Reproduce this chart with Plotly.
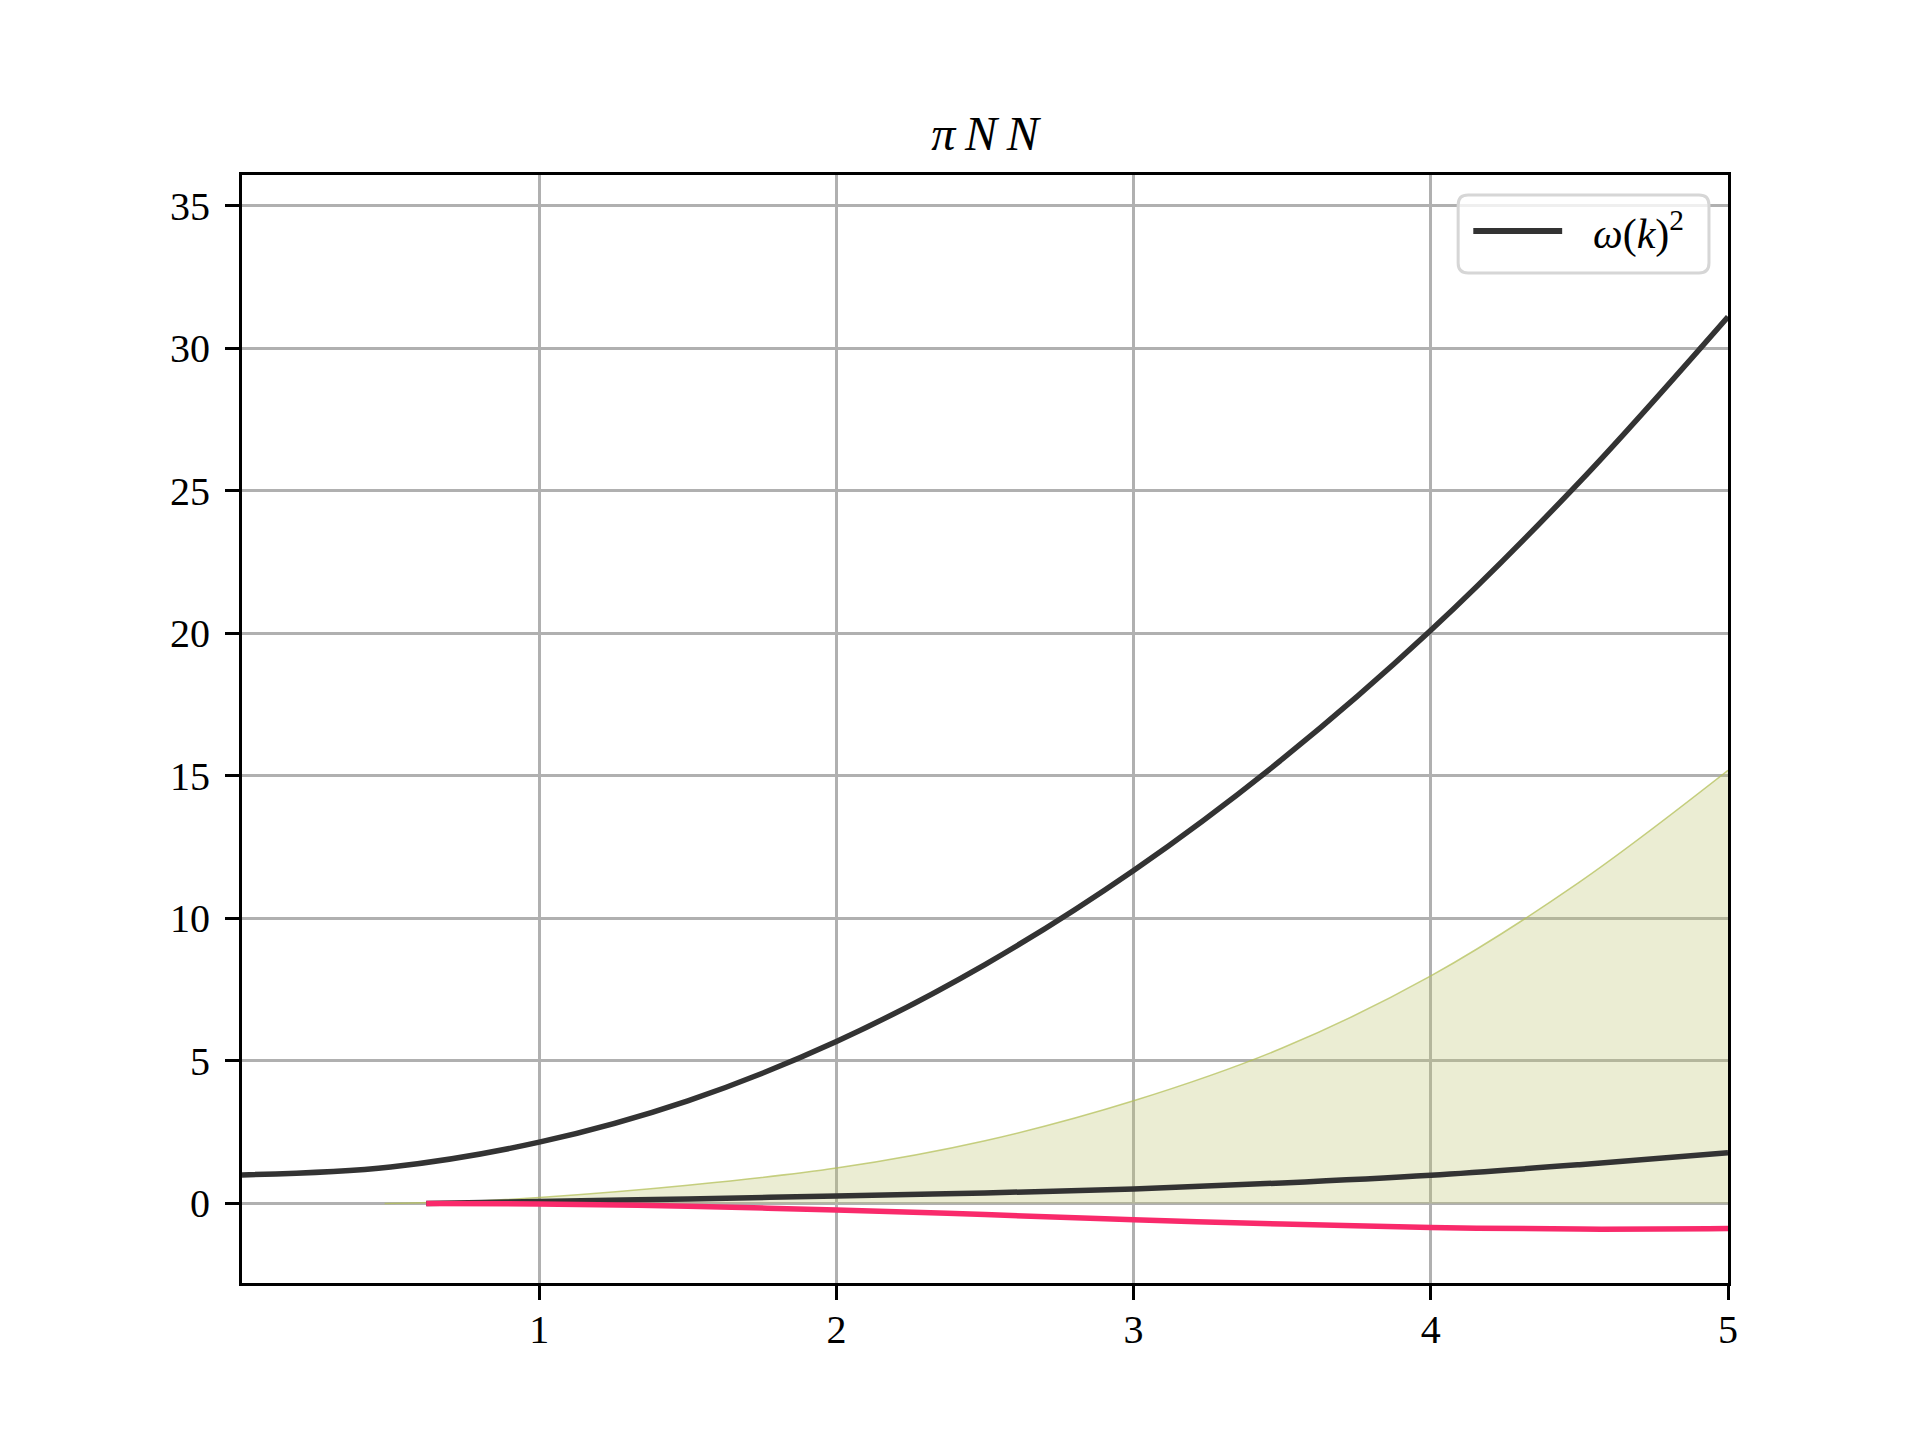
import plotly.graph_objects as go

# Upper dispersion curve omega(k)^2
k_upper = [0, 0.5, 1, 1.5, 2, 2.5, 3, 3.5, 4, 4.5, 5]
w_upper = [1.0, 1.28, 2.15, 3.6, 5.68, 8.38, 11.68, 15.58, 20.1, 25.3, 31.1]

# Lower dispersion curve
k_lower = [0.62, 1, 1.5, 2, 2.5, 3, 3.5, 4, 4.5, 5]
w_lower = [0.0, 0.07, 0.16, 0.26, 0.37, 0.51, 0.72, 0.99, 1.36, 1.78]

# Shaded region upper edge
k_band = [0.48, 0.75, 1, 1.5, 2, 2.5, 3, 3.5, 4, 4.5, 5]
band_top = [0.0, 0.07, 0.21, 0.64, 1.24, 2.2, 3.6, 5.45, 7.98, 11.27, 15.19]

# Pink curve
k_pink = [0.62, 1, 1.5, 2, 2.5, 3, 3.5, 4, 4.5, 5]
pink = [0.0, -0.02, -0.1, -0.23, -0.39, -0.57, -0.72, -0.84, -0.9, -0.88]

x_ticks = [1, 2, 3, 4, 5]
y_ticks = [0, 5, 10, 15, 20, 25, 30, 35]

legend_label = "<i>ω</i>(<i>k</i>)<sup>2</sup>"
title_text = "<i>π\u2009N\u2009N</i>"

FONT = "Liberation Serif"
OFF = 6.5  # page offset compensation

fig = go.Figure()

fig.add_trace(go.Scatter(x=k_band, y=[0] * len(k_band), mode="lines",
                         line=dict(width=0), showlegend=False, hoverinfo="skip"))
fig.add_trace(go.Scatter(x=k_band, y=band_top, mode="lines", fill="tonexty",
                         fillcolor="rgba(188,196,110,0.30)",
                         line=dict(color="rgba(180,192,90,0.75)", width=1.5, shape="spline"),
                         showlegend=False))

fig.add_trace(go.Scatter(x=k_upper, y=w_upper, mode="lines",
                         line=dict(color="#333333", width=5.5, shape="spline"),
                         name=legend_label, showlegend=False))
fig.add_trace(go.Scatter(x=k_lower, y=w_lower, mode="lines",
                         line=dict(color="#333333", width=5.5, shape="spline"),
                         showlegend=False))
fig.add_trace(go.Scatter(x=k_pink, y=pink, mode="lines",
                         line=dict(color="#f92a6b", width=5.5, shape="spline"),
                         showlegend=False))

axis_common = dict(
    showline=True, linecolor="black", linewidth=3, mirror=True,
    ticks="outside", ticklen=14, tickwidth=3, tickcolor="black",
    showgrid=True, gridcolor="#b0b0b0", gridwidth=3,
    zeroline=False,
    tickfont=dict(family=FONT, size=40, color="black"),
)

fig.update_xaxes(range=[0, 5], tickvals=x_ticks, ticktext=[str(v) for v in x_ticks],
                 ticklabelstandoff=-5, **axis_common)
fig.update_yaxes(range=[-2.79, 36.07], tickvals=y_ticks, ticktext=[str(v) for v in y_ticks],
                 ticklabelstandoff=7, **axis_common)

# Manual legend (matplotlib style box with rounded corners)
x0, x1, y0, y1 = 0.8184, 0.9872, 0.9116, 0.9820
rx, ry = 10 / 1487, 10 / 1109
path = (f"M {x0+rx},{y0} L {x1-rx},{y0} Q {x1},{y0} {x1},{y0+ry} "
        f"L {x1},{y1-ry} Q {x1},{y1} {x1-rx},{y1} L {x0+rx},{y1} "
        f"Q {x0},{y1} {x0},{y1-ry} L {x0},{y0+ry} Q {x0},{y0} {x0+rx},{y0} Z")
fig.add_shape(type="path", path=path, xref="paper", yref="paper",
              line=dict(color="#d6d6d6", width=3), fillcolor="rgba(255,255,255,0.8)", layer="above")
fig.add_shape(type="line", x0=0.8286, x1=0.8884, y0=0.9495, y1=0.9495, xref="paper", yref="paper",
              line=dict(color="#333333", width=6), layer="above")
fig.add_annotation(x=0.9079, y=0.9495, xref="paper", yref="paper", xanchor="left", yanchor="middle",
                   text=legend_label, showarrow=False,
                   font=dict(family=FONT, size=42, color="black"))

fig.update_layout(
    width=1920, height=1440,
    margin=dict(l=240 - OFF, r=1920 - 1727 + OFF, t=173 - OFF, b=1440 - 1282 + OFF),
    paper_bgcolor="white", plot_bgcolor="white",
    title=dict(text=title_text, x=(983.5 - OFF) / 1920, xanchor="center",
               y=1 - (132 - OFF) / 1440, yanchor="middle",
               font=dict(family=FONT, size=48, color="black")),
    showlegend=False,
)

fig.write_html("out.html")
